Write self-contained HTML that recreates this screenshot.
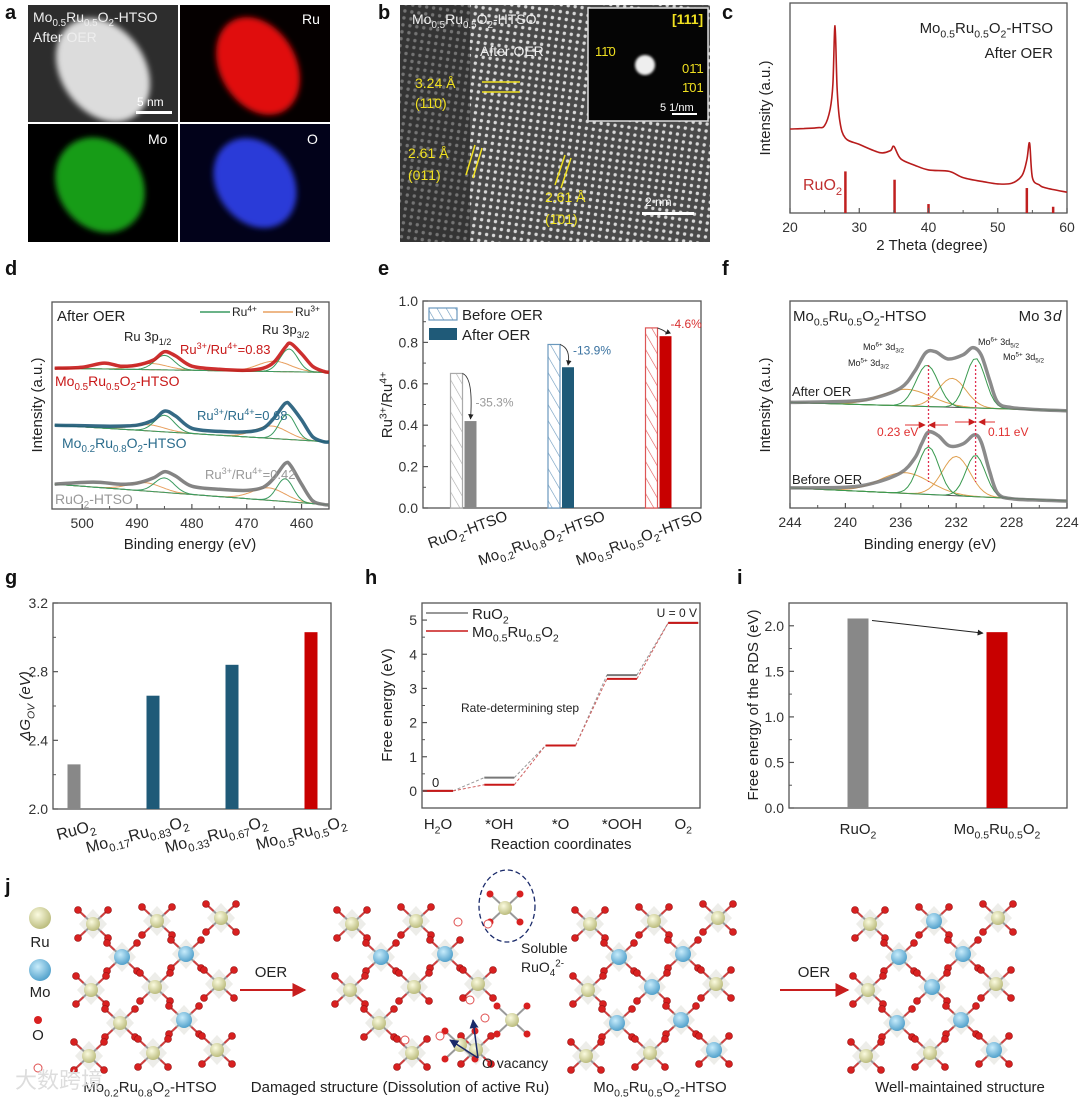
<!DOCTYPE html>
<html><head><meta charset="utf-8"><style>
html,body{margin:0;padding:0;background:#fff}
svg{display:block;font-family:"Liberation Sans",sans-serif}
</style></head><body>
<svg id="fig" width="1080" height="1100" viewBox="0 0 1080 1100" xmlns="http://www.w3.org/2000/svg">
<defs>
<filter id="blur3"><feGaussianBlur stdDeviation="3"/></filter>
<filter id="blur1"><feGaussianBlur stdDeviation="1.2"/></filter>
<pattern id="lat" width="7" height="7" patternUnits="userSpaceOnUse" patternTransform="rotate(8)"><rect width="7" height="7" fill="#4a4a4a"/><circle cx="3.5" cy="3.5" r="1.7" fill="#d8d8d8"/></pattern>
<pattern id="hatch-gray" width="8" height="8" patternUnits="userSpaceOnUse" patternTransform="rotate(-30)"><rect width="8" height="8" fill="#fff"/><line x1="0" y1="0" x2="0" y2="8" stroke="#aaa" stroke-width="1.2"/></pattern>
<pattern id="hatch-blue" width="8" height="8" patternUnits="userSpaceOnUse" patternTransform="rotate(-30)"><rect width="8" height="8" fill="#fff"/><line x1="0" y1="0" x2="0" y2="8" stroke="#6a98bd" stroke-width="1.2"/></pattern>
<pattern id="hatch-red" width="8" height="8" patternUnits="userSpaceOnUse" patternTransform="rotate(-30)"><rect width="8" height="8" fill="#fff"/><line x1="0" y1="0" x2="0" y2="8" stroke="#dd5555" stroke-width="1.2"/></pattern>
<radialGradient id="ruBall" cx="0.4" cy="0.35" r="0.7"><stop offset="0" stop-color="#fbfbe0"/><stop offset="1" stop-color="#b7b877"/></radialGradient>
<radialGradient id="moBall" cx="0.4" cy="0.35" r="0.7"><stop offset="0" stop-color="#c8ecfb"/><stop offset="1" stop-color="#4a9cc8"/></radialGradient>
<marker id="arrowK" viewBox="0 0 10 10" refX="9" refY="5" markerWidth="6" markerHeight="6" orient="auto"><path d="M0,0L10,5L0,10z" fill="#222"/></marker>
<marker id="arrowR" viewBox="0 0 10 10" refX="9" refY="5" markerWidth="7" markerHeight="7" orient="auto"><path d="M0,0L10,5L0,10z" fill="#c81e1e"/></marker>
<marker id="arrowN" viewBox="0 0 10 10" refX="9" refY="5" markerWidth="6" markerHeight="6" orient="auto"><path d="M0,0L10,5L0,10z" fill="#1a2a6a"/></marker>
</defs>
<g>
<rect x="28" y="5" width="150" height="117" fill="#2d2d2d"/>
<ellipse cx="103" cy="70" rx="42" ry="56" transform="rotate(-35 103 70)" fill="#dcdcdc" filter="url(#blur3)"/>
<rect x="180" y="5" width="150" height="117" fill="#050000"/>
<ellipse cx="258" cy="66" rx="38" ry="52" transform="rotate(-30 258 66)" fill="#e01010" filter="url(#blur3)"/>
<rect x="28" y="124" width="150" height="118" fill="#000"/>
<ellipse cx="100" cy="185" rx="42" ry="50" transform="rotate(-35 100 185)" fill="#1fb81f" filter="url(#blur3)" opacity="0.85"/>
<rect x="180" y="124" width="150" height="118" fill="#02021a"/>
<ellipse cx="255" cy="183" rx="38" ry="48" transform="rotate(-35 255 183)" fill="#2a3ad8" filter="url(#blur3)"/>
<rect x="136" y="111" width="36" height="3" fill="#fff"/>
</g>
<g>
<rect x="400" y="5" width="310" height="237" fill="url(#lat)"/>
<rect x="400" y="5" width="70" height="237" fill="#222" opacity="0.55"/>
<rect x="588" y="8" width="120" height="113" fill="#050505" stroke="#ddd" stroke-width="1.5"/>
<circle cx="645" cy="65" r="10" fill="#eee" filter="url(#blur1)"/>
<rect x="642" y="212" width="52" height="3" fill="#fff"/>
<rect x="672" y="113" width="25" height="2" fill="#fff"/>
</g>
</svg>
<script>
const xrdX = [20,22,24,25,25.8,26.2,26.5,26.8,27.2,28,30,33,34.5,35,36,38,40,43,45,48,50,52,53.5,54.2,54.6,55,56,57,60];
const xrdY = [40.4,40.6,41,42,50,62,90,60,44,36,33,29,30,32,26,23,20.7,20,17,15,14,14.3,18,25.5,33.6,17,13.5,12,10];
const ruo2RefX = [28,35.1,40,54.2,58];
const ruo2RefH = [20,16,4.3,12,3];
const xrdTicks = [20,30,40,50,60];

const dRedBE = [505,500,496,493,490,487,485,483,480,475,470,467,465,463,462,460,458,456,455];
const dRedI  = [68,68.5,70.5,69,69.5,72,76,74,69,67.5,67,68,71,78,80,75,69,66.5,66];
const dBlueBE = [505,495,490,487,485,483,480,475,470,467,465,463,462,460,458,456,455];
const dBlueI  = [40.5,40,40.5,43,47.3,45,39,37.5,37.3,39,44,51,50,43,35,32.5,32.4];
const dGrayBE = [505,498,493,490,487,485,483,480,475,470,467,465,463,462,460,458,456,455];
const dGrayI  = [12,13,12,12.5,15,18,16,11,9.5,9,10.5,15,22,21,12,4,2.2,2];
const dTicks = [500,490,480,470,460];
const dRu4Red = [[485,7,1.8],[462.3,11,1.6]];
const dRu3Red = [[487.5,3,3],[465,5,3]];
const dRu4Blue = [[485,8,1.8],[462.6,12,1.5]];
const dRu3Blue = [[488,3,3],[465.5,6,3]];
const dRu4Gray = [[485,7,1.8],[463,11,1.5]];
const dRu3Gray = [[488.5,4,3],[466,6,3]];
const dBaseRed = [68,66];
const dBaseBlue = [40.5,32.4];
const dBaseGray = [12,2];

const eCats = ["RuO_{2}-HTSO","Mo_{0.2}Ru_{0.8}O_{2}-HTSO","Mo_{0.5}Ru_{0.5}O_{2}-HTSO"];
const eBefore = [0.65,0.79,0.87];
const eAfter = [0.42,0.68,0.83];
const eChange = ["-35.3%","-13.9%","-4.6%"];
const eTicks = [0,0.2,0.4,0.6,0.8,1.0];

const fAfterBE = [244,240,238,236,235,234.2,233.5,232.6,231.5,230.8,230.2,229.6,229,228,226,224];
const fAfterI  = [51,51.5,53,58,66,75,75.5,72,74,77.5,74,62,51,48.5,47.5,47];
const fBeforeBE = [244,240,238,236,235,234.5,234,233.3,232.5,231.5,230.7,230.2,229.6,229,228,226,224];
const fBeforeI  = [9.7,10,12,17,24,31,36.7,35,30,31,35.3,32,18,7,4.5,3.8,3.4];
const fGreenAfter = [[234.1,20,0.8],[230.6,24,0.7]];
const fOrangeAfter = [[235.6,8,1.8],[232.3,14,1.0]];
const fGreenBefore = [[234,23,0.75],[230.6,20,0.7]];
const fOrangeBefore = [[235.7,10,1.8],[232,19,1.0]];
const fBaseAfter = [51,47];
const fBaseBefore = [9.7,3.4];
const fTicks = [244,240,236,232,228,224];

const gCats = ["RuO_{2}","Mo_{0.17}Ru_{0.83}O_{2}","Mo_{0.33}Ru_{0.67}O_{2}","Mo_{0.5}Ru_{0.5}O_{2}"];
const gVals = [2.26,2.66,2.84,3.03];
const gTicks = [2.0,2.4,2.8,3.2];

const hSteps = ["H_{2}O","*OH","*O","*OOH","O_{2}"];
const hRuO2 = [0,0.39,1.33,3.39,4.92];
const hMoRu = [0,0.18,1.33,3.28,4.92];
const hTicks = [0,1,2,3,4,5];

const iCats = ["RuO_{2}","Mo_{0.5}Ru_{0.5}O_{2}"];
const iVals = [2.08,1.93];
const iTicks = [0.0,0.5,1.0,1.5,2.0];

const NS = "http://www.w3.org/2000/svg";
const svg = document.getElementById('fig');
function mk(tag, attrs, parent){
  const e = document.createElementNS(NS, tag);
  for (const k in attrs) e.setAttribute(k, attrs[k]);
  (parent || svg).appendChild(e);
  return e;
}
function lin(d0,d1,r0,r1){ return v => r0 + (v-d0)/(d1-d0)*(r1-r0); }
function txt(x,y,s,name,o){
  o = o || {};
  s = String(s);
  const fs = o.fs || 13;
  const t = mk('text',{x:x,y:y,'font-size':fs,fill:o.fill||'#222','text-anchor':o.anchor||'start','font-weight':o.fw||'normal','font-style':o.fi||'normal'});
  
  
  if (o.rot) t.setAttribute('transform', 'rotate('+o.rot+' '+x+' '+y+')');
  const re = /(_|\^)\{([^}]*)\}/g;
  let last = 0, m, shift = 0;
  while ((m = re.exec(s)) !== null) {
    if (m.index > last) { const sp = mk('tspan',{dy:-shift},t); sp.textContent = s.slice(last,m.index); shift = 0; }
    const d = m[1] === '_' ? fs*0.3 : -fs*0.38;
    const sp = mk('tspan',{dy:d - shift,'font-size':fs*0.7},t); sp.textContent = m[2]; shift = d;
    last = re.lastIndex;
  }
  if (last < s.length) { const sp = mk('tspan',{dy:-shift},t); sp.textContent = s.slice(last); }
  return t;
}
function box(x0,y0,x1,y1,name){
  const r = mk('rect',{x:x0,y:y0,width:x1-x0,height:y1-y0,fill:'none',stroke:'#555','stroke-width':1.3});
  
  
}
function line(x1,y1,x2,y2,st,w,name,extra){
  const l = mk('line',Object.assign({x1:x1,y1:y1,x2:x2,y2:y2,stroke:st,'stroke-width':w},extra||{}));
  
  
  return l;
}
function smooth(pts){
  let d = 'M'+pts[0][0].toFixed(1)+','+pts[0][1].toFixed(1);
  for (let i=0;i<pts.length-1;i++){
    const p0=pts[i-1]||pts[i], p1=pts[i], p2=pts[i+1], p3=pts[i+2]||p2;
    const c1=[p1[0]+(p2[0]-p0[0])/6, p1[1]+(p2[1]-p0[1])/6];
    const c2=[p2[0]-(p3[0]-p1[0])/6, p2[1]-(p3[1]-p1[1])/6];
    d += 'C'+c1[0].toFixed(1)+','+c1[1].toFixed(1)+' '+c2[0].toFixed(1)+','+c2[1].toFixed(1)+' '+p2[0].toFixed(1)+','+p2[1].toFixed(1);
  }
  return d;
}
function curve(xs,ys,sx,sy,st,w,name,extra){
  const p = mk('path',Object.assign({d:smooth(xs.map((x,i)=>[sx(x),sy(ys[i])])),fill:'none',stroke:st,'stroke-width':w,'stroke-linejoin':'round'},extra||{}));
  
  
  return p;
}
function comps(list,base,lo,hi,sx,sy,st,name){
  list.forEach(c=>{
    const pts=[];
    for(let x=lo;x>=hi;x-=0.25){
      const b = base[0] + (lo-x)/(lo-hi)*(base[1]-base[0]);
      pts.push([sx(x), sy(b + c[1]*Math.exp(-Math.pow((x-c[0])/c[2],2)/2))]);
    }
    const p = mk('path',{d:'M'+pts.map(q=>q[0].toFixed(1)+','+q[1].toFixed(1)).join('L'),fill:'none',stroke:st,'stroke-width':1});
    
    
  });
}
function yTicks(ticks,sy,x0,fmt,name,minor){
  ticks.forEach(v=>{
    line(x0,sy(v),x0+5,sy(v),'#555',1.2,name+'-tick');
    txt(x0-5,sy(v)+5,fmt(v),name+'-label',{anchor:'end',fs:14,fill:'#333'});
  });
  if(minor) minor.forEach(v=>line(x0,sy(v),x0+3,sy(v),'#555',1,name+'-minor-tick'));
}
function xTicks(ticks,sx,y0,fmt,name,minor){
  ticks.forEach(v=>{
    line(sx(v),y0,sx(v),y0-5,'#555',1.2,name+'-tick');
    txt(sx(v),y0+19,fmt(v),name+'-label',{anchor:'middle',fs:14,fill:'#333'});
  });
  if(minor) minor.forEach(v=>line(sx(v),y0,sx(v),y0-3,'#555',1,name+'-minor-tick'));
}
function bar(x,w,y,y0,fill,stroke,name){
  const r = mk('rect',{x:x-w/2,y:Math.min(y,y0),width:w,height:Math.abs(y0-y),fill:fill,stroke:stroke||'none','stroke-width':1.2});
  
  
  return r;
}

[['a',5,19],['b',378,19],['c',722,19],['d',5,275],['e',378,275],['f',722,275],['g',5,584],['h',365,584],['i',737,584],['j',5,893]].forEach(p=>txt(p[1],p[2],p[0],'panel-letter-'+p[0],{fs:20,fw:'bold',fill:'#111'}));

txt(33,22,'Mo_{0.5}Ru_{0.5}O_{2}-HTSO','haadf-title',{fs:14,fill:'#eee'});
txt(33,42,'After OER','haadf-subtitle',{fs:14,fill:'#eee'});
txt(137,106,'5 nm','scale-5nm-label',{fs:12,fill:'#fff'});
txt(302,24,'Ru','ru-label',{fs:14,fill:'#fff'});
txt(148,144,'Mo','mo-label',{fs:14,fill:'#fff'});
txt(307,144,'O','o-label',{fs:14,fill:'#fff'});
txt(412,24,'Mo_{0.5}Ru_{0.5}O_{2}-HTSO','hrtem-title',{fs:14,fill:'#eee'});
txt(480,56,'After OER','hrtem-subtitle',{fs:14,fill:'#eee'});
txt(415,88,'3.24 Å','d-spacing-110',{fs:14,fill:'#f0e020'});
txt(415,108,'(11̄0)','plane-110',{fs:14,fill:'#f0e020'});
txt(408,158,'2.61 Å','d-spacing-011',{fs:14,fill:'#f0e020'});
txt(408,180,'(01̄1)','plane-011',{fs:14,fill:'#f0e020'});
txt(545,202,'2.61 Å','d-spacing-101',{fs:14,fill:'#f0e020'});
txt(545,224,'(1̄01)','plane-101',{fs:14,fill:'#f0e020'});
line(482,82,520,82,'#f0e020',1.5,'fringe-line');line(482,92,520,92,'#f0e020',1.5,'fringe-line');
line(466,175,475,145,'#f0e020',1.5,'fringe-line');line(473,178,482,148,'#f0e020',1.5,'fringe-line');
line(555,185,565,155,'#f0e020',1.5,'fringe-line');line(561,188,571,158,'#f0e020',1.5,'fringe-line');
txt(645,206,'2 nm','scale-2nm-label',{fs:12,fill:'#fff'});
txt(672,24,'[111]','zone-axis',{fs:14,fw:'bold',fill:'#f0e020'});
txt(595,56,'11̄0','fft-spot-110',{fs:13,fill:'#f0e020'});
txt(682,73,'01̄1','fft-spot-011',{fs:13,fill:'#f0e020'});
txt(682,92,'1̄01','fft-spot-101',{fs:13,fill:'#f0e020'});
txt(660,111,'5 1/nm','fft-scale-label',{fs:11,fill:'#fff'});

(function(){
  const sx = lin(20,60,790,1067), sy = lin(0,100,213,5);
  box(790,3,1067,213,'xrd-plot-frame');
  curve(xrdX,xrdY,sx,sy,'#b81c1c',1.6,'xrd-pattern');
  ruo2RefX.forEach((v,i)=>{ line(sx(v),213,sx(v),sy(ruo2RefH[i]),'#c02020',2.5,'ruo2-reference-line'); });
  xTicks(xrdTicks,sx,213,v=>v,'xrd-x-tick',[25,35,45,55]);
  txt(1053,33,'Mo_{0.5}Ru_{0.5}O_{2}-HTSO','xrd-sample-label',{fs:15,anchor:'end'});
  txt(1053,58,'After OER','xrd-condition-label',{fs:15,anchor:'end'});
  txt(803,190,'RuO_{2}','ruo2-reference-label',{fs:16,fill:'#c03030'});
  txt(932,250,'2 Theta (degree)','xrd-x-title',{fs:15,anchor:'middle'});
  txt(770,108,'Intensity (a.u.)','xrd-y-title',{fs:15,anchor:'middle',rot:-90});
})();

(function(){
  const sx = lin(505.5,455,52,329), sy = lin(0,100,509,302);
  box(52,302,329,509,'ru3p-plot-frame');
  [[dBaseRed,'#e07090'],[dBaseBlue,'#e07090'],[dBaseGray,'#e07090']].forEach(b=>line(sx(505),sy(b[0][0]),sx(455),sy(b[0][1]),b[1],1,'ru3p-background',{'stroke-dasharray':'4,2'}));
  comps(dRu3Red,dBaseRed,505,455,sx,sy,'#e8a060','ru3-component');
  comps(dRu4Red,dBaseRed,505,455,sx,sy,'#3a9a60','ru4-component');
  comps(dRu3Blue,dBaseBlue,505,455,sx,sy,'#e8a060','ru3-component');
  comps(dRu4Blue,dBaseBlue,505,455,sx,sy,'#3a9a60','ru4-component');
  comps(dRu3Gray,dBaseGray,505,455,sx,sy,'#e8a060','ru3-component');
  comps(dRu4Gray,dBaseGray,505,455,sx,sy,'#3a9a60','ru4-component');
  curve(dRedBE,dRedI,sx,sy,'#c81818',3.5,'mo05-ru3p-spectrum',{opacity:0.9});
  curve(dBlueBE,dBlueI,sx,sy,'#1f5a78',3.5,'mo02-ru3p-spectrum',{opacity:0.9});
  curve(dGrayBE,dGrayI,sx,sy,'#777',3.5,'ruo2-ru3p-spectrum',{opacity:0.9});
  xTicks(dTicks,sx,509,v=>v,'ru3p-x-tick',[495,485,475,465,455]);
  txt(57,321,'After OER','ru3p-condition',{fs:15});
  line(200,312,230,312,'#3a9a60',1.5,'legend-ru4-line');
  txt(232,316,'Ru^{4+}','legend-ru4-label',{fs:12});
  line(263,312,293,312,'#e8a060',1.5,'legend-ru3-line');
  txt(295,316,'Ru^{3+}','legend-ru3-label',{fs:12});
  txt(124,341,'Ru 3p_{1/2}','ru3p12-label',{fs:13});
  txt(262,334,'Ru 3p_{3/2}','ru3p32-label',{fs:13});
  txt(180,354,'Ru^{3+}/Ru^{4+}=0.83','ratio-mo05',{fs:13,fill:'#c81818'});
  txt(55,386,'Mo_{0.5}Ru_{0.5}O_{2}-HTSO','label-mo05',{fs:14,fill:'#c81818'});
  txt(197,420,'Ru^{3+}/Ru^{4+}=0.68','ratio-mo02',{fs:13,fill:'#2b6c8c'});
  txt(62,448,'Mo_{0.2}Ru_{0.8}O_{2}-HTSO','label-mo02',{fs:14,fill:'#2b6c8c'});
  txt(205,479,'Ru^{3+}/Ru^{4+}=0.42','ratio-ruo2',{fs:13,fill:'#999'});
  txt(55,504,'RuO_{2}-HTSO','label-ruo2',{fs:14,fill:'#999'});
  txt(190,549,'Binding energy (eV)','ru3p-x-title',{fs:15,anchor:'middle'});
  txt(42,405,'Intensity (a.u.)','ru3p-y-title',{fs:15,anchor:'middle',rot:-90});
})();

(function(){
  const sy = lin(0,1,508,301), cx = i => 463.5 + 97.5*i;
  box(423,301,701,508,'ratio-plot-frame');
  const hatch = ['url(#hatch-gray)','url(#hatch-blue)','url(#hatch-red)'];
  const strokes = ['#aaa','#6a98bd','#dd5555'];
  const solids = ['#888','#1f5a78','#c80000'];
  const ann = ['#999','#3a72a0','#d83030'];
  eBefore.forEach((v,i)=>bar(cx(i)-7,12,sy(v),508,hatch[i],strokes[i],'before-oer-bar'));
  eAfter.forEach((v,i)=>bar(cx(i)+7,12,sy(v),508,solids[i],'none','after-oer-bar'));
  eBefore.forEach((v,i)=>{
    const p = mk('path',{d:'M'+(cx(i)-1)+','+sy(v)+' Q'+(cx(i)+10)+','+(sy(v)+4)+' '+(cx(i)+7)+','+(sy(eAfter[i])-2),fill:'none',stroke:'#333','stroke-width':0.9,'marker-end':'url(#arrowK)'});
    
    
    txt(cx(i)+12,sy(v)+ (i===0?33:(i===1?10:0)),eChange[i],'change-label',{fs:12,fill:ann[i]});
  });
  yTicks(eTicks,sy,423,v=>v.toFixed(1),'ratio-y-tick',[0.1,0.3,0.5,0.7,0.9]);
  eCats.forEach((c,i)=>txt(cx(i)+45,520,c,'ratio-x-label',{fs:15,anchor:'end',rot:-20}));
  bar(443,28,308,320,'url(#hatch-blue)','#6a98bd','legend-before-swatch');
  txt(462,320,'Before OER','legend-before-label',{fs:15});
  bar(443,28,328,340,'#1f5a78','none','legend-after-swatch');
  txt(462,340,'After OER','legend-after-label',{fs:15});
  txt(392,405,'Ru^{3+}/Ru^{4+}','ratio-y-title',{fs:15,anchor:'middle',rot:-90});
})();

(function(){
  const sx = lin(244,224,790,1067), sy = lin(0,100,508,301);
  box(790,301,1067,508,'mo3d-plot-frame');
  line(sx(244),sy(fBaseAfter[0]),sx(224),sy(fBaseAfter[1]),'#555',1,'mo3d-background');
  line(sx(244),sy(fBaseBefore[0]),sx(224),sy(fBaseBefore[1]),'#555',1,'mo3d-background');
  comps(fOrangeAfter,fBaseAfter,244,224,sx,sy,'#e0a050','mo5-component');
  comps(fGreenAfter,fBaseAfter,244,224,sx,sy,'#3a9a50','mo6-component');
  comps(fOrangeBefore,fBaseBefore,244,224,sx,sy,'#e0a050','mo5-component');
  comps(fGreenBefore,fBaseBefore,244,224,sx,sy,'#3a9a50','mo6-component');
  curve(fAfterBE,fAfterI,sx,sy,'#777',3.5,'after-oer-mo3d-spectrum',{opacity:0.85});
  curve(fBeforeBE,fBeforeI,sx,sy,'#777',3.5,'before-oer-mo3d-spectrum',{opacity:0.85});
  [234,230.6].forEach(v=>line(sx(v),365,sx(v),482,'#e03050',1.3,'peak-shift-guide',{'stroke-dasharray':'2,2'}));
  line(905,425,925,425,'#e03030',1,'shift-arrow',{'marker-end':'url(#arrowR)'});
  line(948,425,929,425,'#e03030',1,'shift-arrow',{'marker-end':'url(#arrowR)'});
  line(955,422,975,422,'#e03030',1,'shift-arrow',{'marker-end':'url(#arrowR)'});
  line(995,422,979,422,'#e03030',1,'shift-arrow',{'marker-end':'url(#arrowR)'});
  txt(877,436,'0.23 eV','shift-023',{fs:12,fill:'#e03030'});
  txt(988,436,'0.11 eV','shift-011',{fs:12,fill:'#e03030'});
  xTicks(fTicks,sx,508,v=>v,'mo3d-x-tick',[242,238,234,230,226]);
  txt(793,321,'Mo_{0.5}Ru_{0.5}O_{2}-HTSO','mo3d-sample-label',{fs:15});
  txt(1052,321,'Mo 3','mo3d-region-label',{fs:15,anchor:'end'});
  txt(1053,321,'d','mo3d-region-d',{fs:15,fi:'italic'});
  txt(792,396,'After OER','mo3d-after-label',{fs:13});
  txt(792,484,'Before OER','mo3d-before-label',{fs:13});
  txt(863,350,'Mo^{6+} 3d_{3/2}','mo6-32-label',{fs:9});
  txt(848,366,'Mo^{5+} 3d_{3/2}','mo5-32-label',{fs:9});
  txt(978,345,'Mo^{6+} 3d_{5/2}','mo6-52-label',{fs:9});
  txt(1003,360,'Mo^{5+} 3d_{5/2}','mo5-52-label',{fs:9});
  txt(930,549,'Binding energy (eV)','mo3d-x-title',{fs:15,anchor:'middle'});
  txt(770,405,'Intensity (a.u.)','mo3d-y-title',{fs:15,anchor:'middle',rot:-90});
})();

(function(){
  const sy = lin(2.0,3.2,809,603), cx = i => 74 + 79*i;
  box(53,603,331,809,'ov-plot-frame');
  const cols = ['#888','#1f5a78','#1f5a78','#c80000'];
  gVals.forEach((v,i)=>bar(cx(i),13,sy(v),809,cols[i],'none','ov-bar'));
  yTicks(gTicks,sy,53,v=>v.toFixed(1),'ov-y-tick',[2.2,2.6,3.0]);
  gCats.forEach((c,i)=>txt(cx(i)+(i===0?22:36),i===0?830:826,c,'ov-x-label',{fs:16,anchor:'end',rot:-15}));
  txt(30,706,'ΔG_{OV} (eV)','ov-y-title',{fs:15,anchor:'middle',rot:-90,fi:'italic'});
})();

(function(){
  const sy = lin(-0.5,5.5,808,603), cx = i => 438 + 61.3*i, hw = 15;
  box(422,603,700,808,'energy-plot-frame');
  for(let i=0;i<hSteps.length-1;i++){
    line(cx(i)+hw,sy(hRuO2[i]),cx(i+1)-hw,sy(hRuO2[i+1]),'#999',1,'ruo2-connector',{'stroke-dasharray':'3,2'});
    line(cx(i)+hw,sy(hMoRu[i]),cx(i+1)-hw,sy(hMoRu[i+1]),'#d06060',1,'moru-connector',{'stroke-dasharray':'3,2'});
  }
  hRuO2.forEach((v,i)=>line(cx(i)-hw,sy(v),cx(i)+hw,sy(v),'#777',2,'ruo2-level'));
  hMoRu.forEach((v,i)=>line(cx(i)-hw,sy(v),cx(i)+hw,sy(v),'#c81818',2,'moru-level'));
  yTicks(hTicks,sy,422,v=>v,'energy-y-tick',[-0.5,0.5,1.5,2.5,3.5,4.5]);
  hSteps.forEach((s,i)=>txt(cx(i),829,s,'step-label',{fs:15,anchor:'middle'}));
  line(426,613,468,613,'#777',1.5,'legend-ruo2-line');
  txt(472,619,'RuO_{2}','legend-ruo2-label',{fs:15});
  line(426,631,468,631,'#c81818',1.5,'legend-moru-line');
  txt(472,637,'Mo_{0.5}Ru_{0.5}O_{2}','legend-moru-label',{fs:15});
  txt(697,617,'U = 0 V','potential-label',{fs:12,anchor:'end'});
  txt(432,787,'0','zero-label',{fs:13});
  txt(461,712,'Rate-determining step','rds-label',{fs:12});
  txt(561,849,'Reaction coordinates','energy-x-title',{fs:15,anchor:'middle'});
  txt(392,705,'Free energy (eV)','energy-y-title',{fs:15,anchor:'middle',rot:-90});
})();

(function(){
  const sy = lin(0,2.25,808,603), cx = i => 858 + 139*i;
  box(789,603,1067,808,'rds-plot-frame');
  const cols = ['#888','#c80000'];
  iVals.forEach((v,i)=>bar(cx(i),21,sy(v),808,cols[i],'none','rds-bar'));
  const a = line(cx(0)+14,sy(iVals[0])+2,cx(1)-14,sy(iVals[1])+1,'#222',1,'rds-arrow');
  a.setAttribute('marker-end','url(#arrowK)');
  yTicks(iTicks,sy,789,v=>v.toFixed(1),'rds-y-tick',[0.25,0.75,1.25,1.75,2.25]);
  iCats.forEach((c,i)=>txt(cx(i),834,c,'rds-x-label',{fs:15,anchor:'middle'}));
  txt(758,705,'Free energy of the RDS (eV)','rds-y-title',{fs:15,anchor:'middle',rot:-90});
})();

(function(){
  function lattice(ox,oy,moSet,missing,name){
    const g = mk('g',{});
    
    
    const sites=[];
    for(let r=0;r<5;r++){
      const n = r%2===0?3:2;
      for(let c=0;c<n;c++){
        const x = ox + (r%2===0?0:30) + c*64 - r*1, y = oy + r*33 - c*3;
        sites.push([x,y,r+'-'+c]);
      }
    }
    sites.forEach(s=>{
      if(missing.indexOf(s[2])>=0) return;
      mk('polygon',{points:[[s[0]-14,s[1]],[s[0],s[1]-15],[s[0]+14,s[1]],[s[0],s[1]+15]].map(p=>p.join(',')).join(' '),fill:'#e8e8e4',opacity:0.8},g);
      [[-15,-14],[15,-14],[-15,14],[15,14]].forEach(o=>{
        mk('line',{x1:s[0],y1:s[1],x2:s[0]+o[0],y2:s[1]+o[1],stroke:'#999','stroke-width':2},g);
        mk('line',{x1:s[0]+o[0]*0.5,y1:s[1]+o[1]*0.5,x2:s[0]+o[0],y2:s[1]+o[1],stroke:'#d04040','stroke-width':2},g);
        mk('circle',{cx:s[0]+o[0],cy:s[1]+o[1],r:3.5,fill:'#d82020',stroke:'#901010','stroke-width':0.6},g);
      });
      const mo = moSet.indexOf(s[2])>=0;
      mk('circle',{cx:s[0],cy:s[1],r:mo?8:7,fill:mo?'url(#moBall)':'url(#ruBall)'},g);
    });
  }
  lattice(93,924,['1-0','1-1','3-1'],[],'mo02ru08-structure');
  lattice(352,924,['1-0','1-1'],['0-2','3-1','4-0'],'damaged-structure');
  lattice(590,924,['1-0','1-1','2-1','3-0','3-1','4-2'],[],'mo05ru05-structure');
  lattice(870,924,['0-1','1-0','1-1','2-1','3-0','3-1','4-2'],[],'well-maintained-structure');
  [[505,908],[460,1045],[512,1020]].forEach(p=>{
    const g = mk('g',{});
    
    
    [[-15,-14],[15,-14],[-15,14],[15,14]].forEach(o=>{
      mk('line',{x1:p[0],y1:p[1],x2:p[0]+o[0],y2:p[1]+o[1],stroke:'#999','stroke-width':2},g);
      mk('circle',{cx:p[0]+o[0],cy:p[1]+o[1],r:3.5,fill:'#d82020'},g);
    });
    mk('circle',{cx:p[0],cy:p[1],r:7,fill:'url(#ruBall)'},g);
  });
  [[488,924],[470,1000],[440,1036],[485,1018],[458,922],[405,1040]].forEach(p=>{
    const c = mk('circle',{cx:p[0],cy:p[1],r:4,fill:'#fff',stroke:'#e05050','stroke-width':1});
    
    
  });
  const el = mk('ellipse',{cx:507,cy:906,rx:28,ry:36,fill:'none',stroke:'#1a2a6a','stroke-width':1.3,'stroke-dasharray':'5,3'});
  
  
  line(478,1058,450,1040,'#1a2a6a',1.5,'vacancy-pointer',{'marker-end':'url(#arrowN)'});
  line(478,1058,473,1020,'#1a2a6a',1.5,'vacancy-pointer',{'marker-end':'url(#arrowN)'});
  txt(521,953,'Soluble','soluble-label',{fs:14});
  txt(521,972,'RuO_{4}^{2-}','ruo4-label',{fs:14});
  txt(482,1068,'O vacancy','o-vacancy-label',{fs:14});
  line(240,990,305,990,'#c81e1e',2,'oer-arrow-1',{'marker-end':'url(#arrowR)'});
  txt(271,977,'OER','oer-label-1',{fs:15,anchor:'middle'});
  line(780,990,848,990,'#c81e1e',2,'oer-arrow-2',{'marker-end':'url(#arrowR)'});
  txt(814,977,'OER','oer-label-2',{fs:15,anchor:'middle'});
  const legend=[[40,918,11,'url(#ruBall)','Ru',947],[40,970,11,'url(#moBall)','Mo',997]];
  legend.forEach(l=>{
    const c = mk('circle',{cx:l[0],cy:l[1],r:l[2],fill:l[3]});
    
    
    txt(l[0],l[5],l[4],'legend-'+l[4]+'-label',{fs:15,anchor:'middle'});
  });
  const o1 = mk('circle',{cx:38,cy:1020,r:4,fill:'#d82020'});
  
  
  txt(38,1040,'O','legend-o-label',{fs:15,anchor:'middle'});
  const o2 = mk('circle',{cx:38,cy:1068,r:4,fill:'#fff',stroke:'#e05050'});
  
  
  txt(150,1092,'Mo_{0.2}Ru_{0.8}O_{2}-HTSO','caption-mo02',{fs:15,anchor:'middle'});
  txt(400,1092,'Damaged structure (Dissolution of active Ru)','caption-damaged',{fs:15,anchor:'middle'});
  txt(660,1092,'Mo_{0.5}Ru_{0.5}O_{2}-HTSO','caption-mo05',{fs:15,anchor:'middle'});
  txt(960,1092,'Well-maintained structure','caption-maintained',{fs:15,anchor:'middle'});
  txt(15,1088,'大数跨境','watermark',{fs:22,fill:'#ddd'}).setAttribute('font-family','"Liberation Sans","Noto Sans CJK SC",sans-serif');
})();
</script>
</body></html>
